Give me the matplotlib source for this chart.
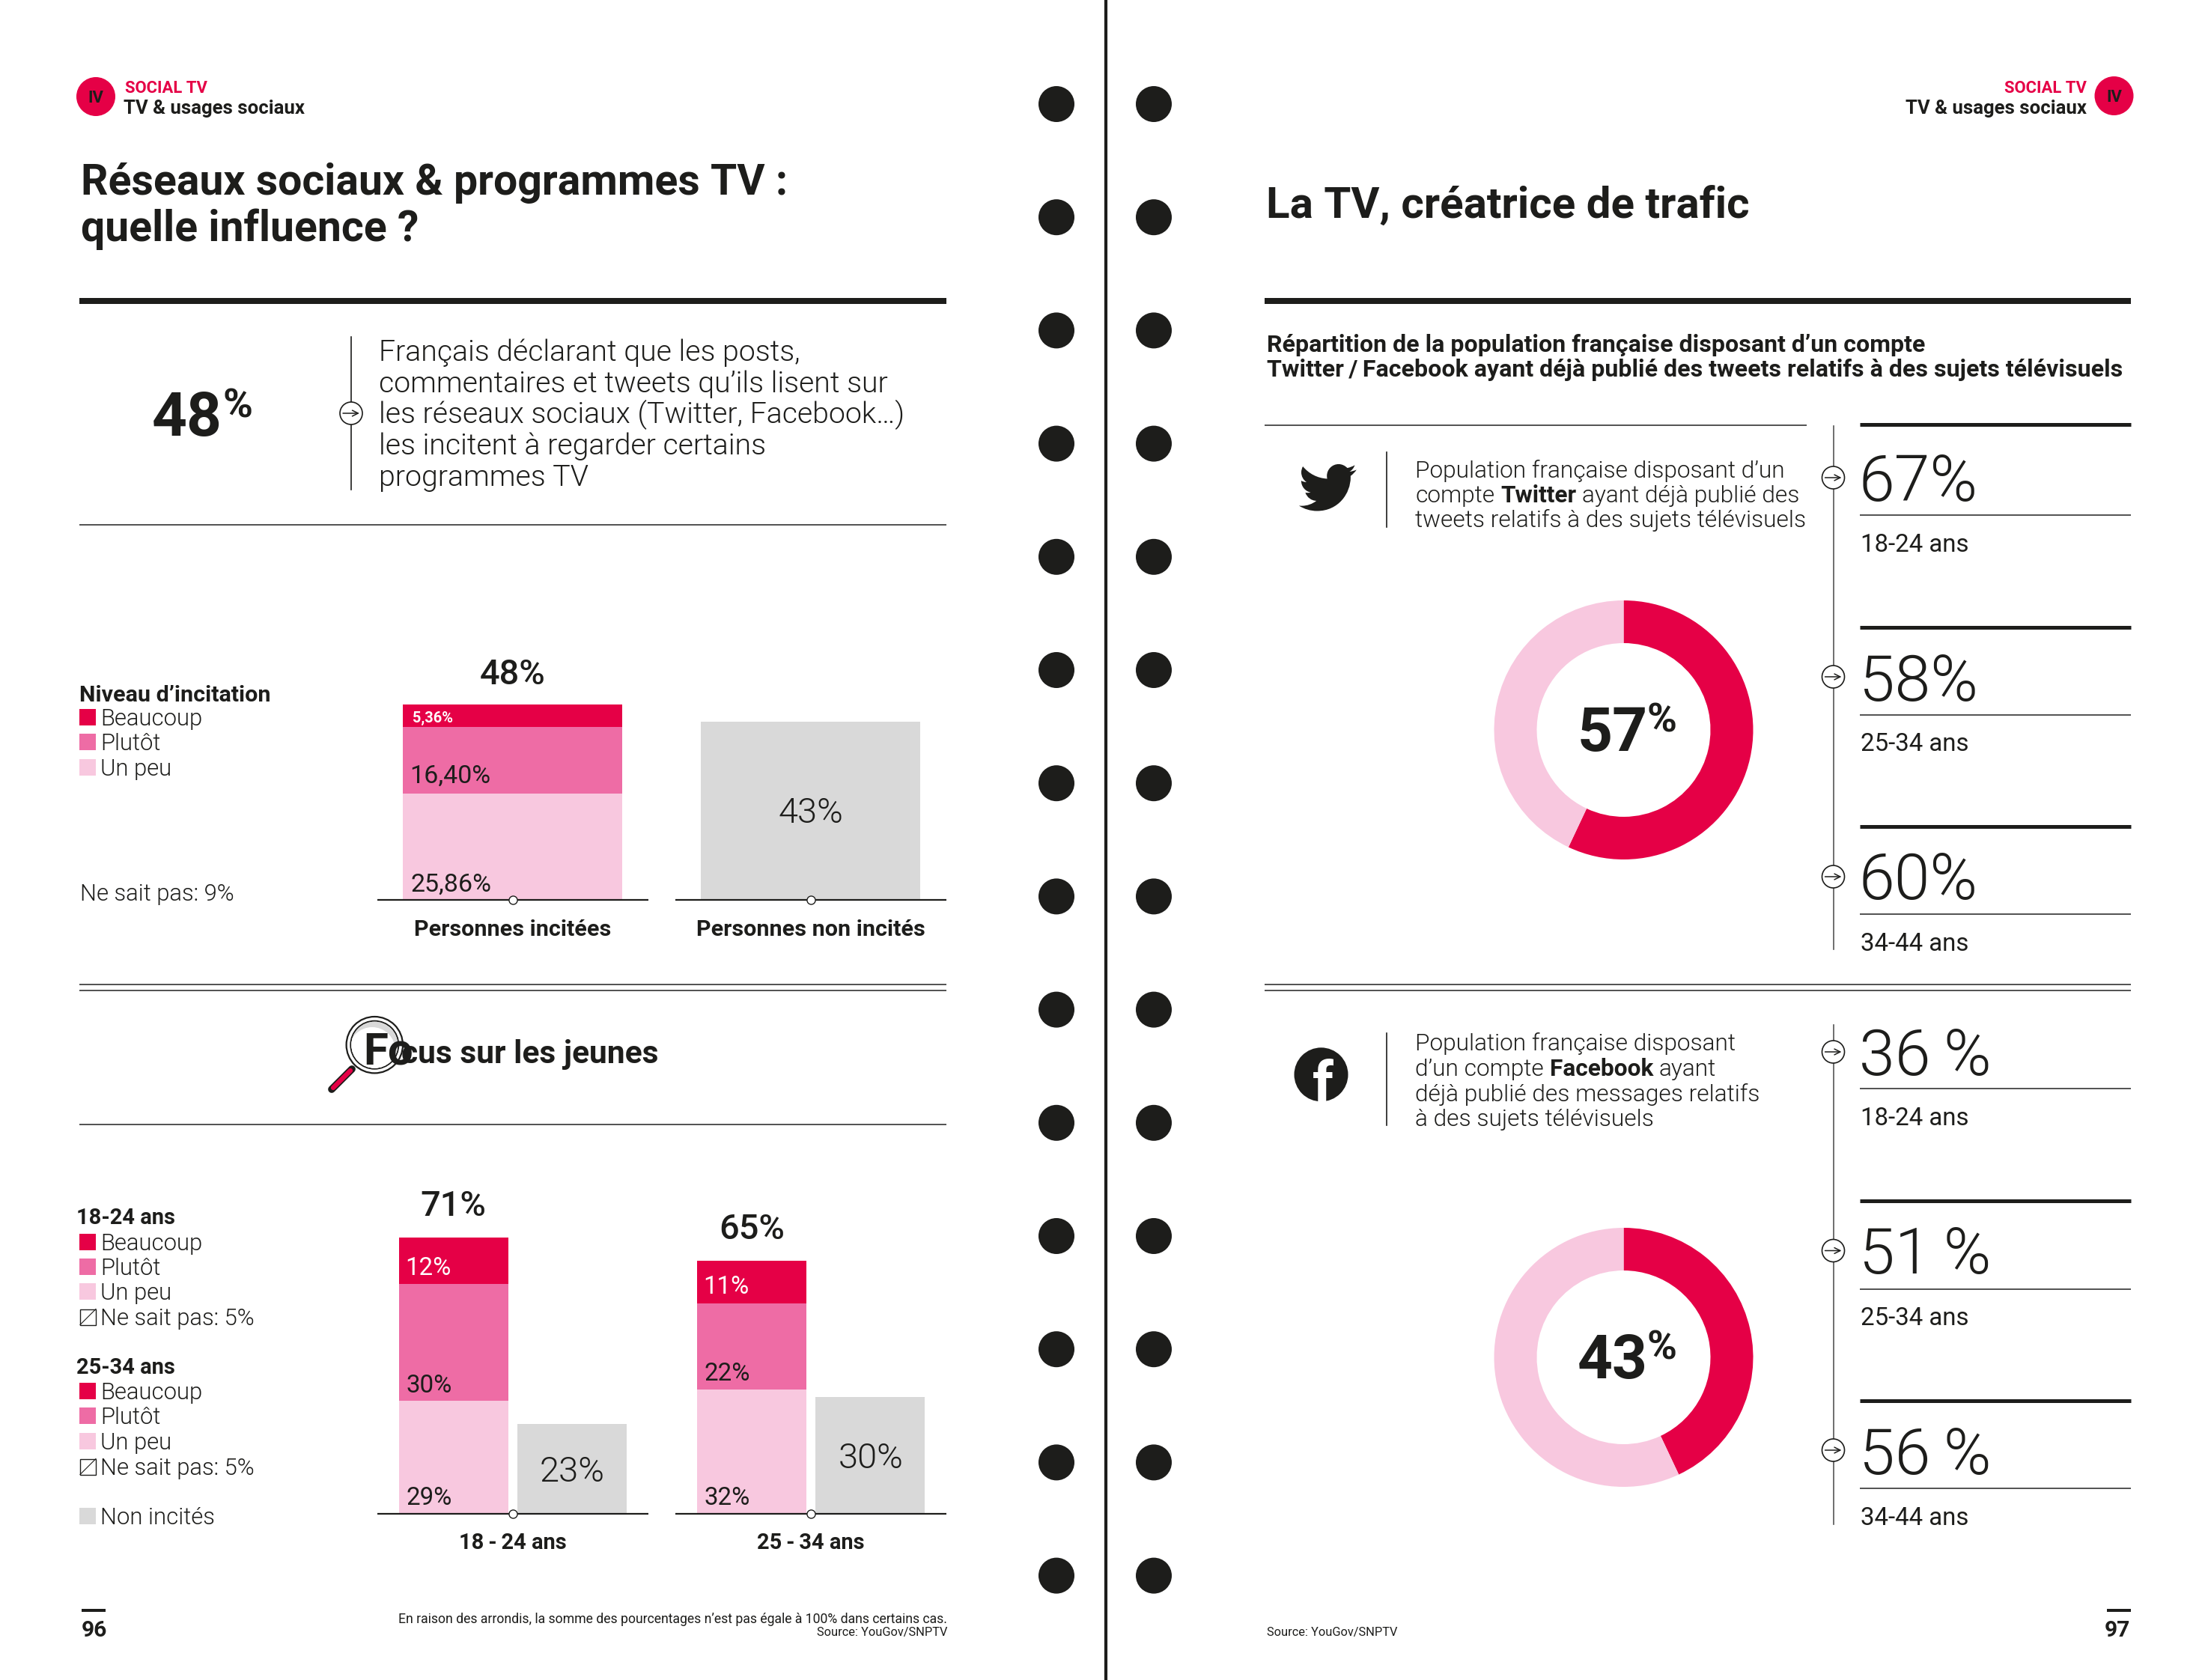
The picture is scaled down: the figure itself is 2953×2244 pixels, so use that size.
import matplotlib
matplotlib.use("Agg")
import matplotlib.pyplot as plt
from matplotlib.patches import Circle, Rectangle, PathPatch
from matplotlib.path import Path
from matplotlib.transforms import Affine2D

W, H = 2953, 2244

RED = "#E50046"
PINK = "#EE6CA5"
LIGHT = "#F8C8DF"
GREY = "#D9D9D9"
DARK = "#1D1D1B"

# data
incitees = [25.86, 16.40, 5.36]
non_incites = 43.46
incitees_labels = ["25,86%", "16,40%", "5,36%"]
jeunes_18_24 = [29, 30, 12]
jeunes_25_34 = [32, 22, 11]
jeunes_non_incites = [23, 30]
jeunes_groups = ["18\u2009-\u200924 ans", "25\u2009-\u200934 ans"]
twitter_share = [57, 43]
facebook_share = [43, 57]
twitter_ages = ["67%", "58%", "60%"]
facebook_ages = ["36\u2009%", "51\u2009%", "56\u2009%"]
age_labels = ["18-24 ans", "25-34 ans", "34-44 ans"]
legend_levels = ["Beaucoup", "Plutôt", "Un peu"]

ROB = ["Roboto"]

fig = plt.figure(figsize=(W / 100, H / 100), dpi=100, facecolor="white")
page = fig.add_axes([0, 0, 1, 1], zorder=5)
page.set_xlim(0, W)
page.set_ylim(H, 0)
page.axis("off")
page.patch.set_alpha(0)
renderer = fig.canvas.get_renderer()


def sub_axes(x0, y0, x1, y1):
    ax = fig.add_axes([x0 / W, 1 - y1 / H, (x1 - x0) / W, (y1 - y0) / H], zorder=2)
    ax.axis("off")
    return ax


def txt(x, y, s, size, weight="normal", color=DARK, ha="left", **kw):
    # y is the middle of the capitals, size is in pixels
    return page.text(x, y + 0.36 * size, s, fontsize=size * 0.72, family=ROB, weight=weight,
                     color=color, ha=ha, va="baseline", **kw)


def mixed(x, y, parts, size):
    for s, bold in parts:
        t = txt(x, y, s, size, weight="bold" if bold else 300)
        x = t.get_window_extent(renderer).x1 + size * 0.24


def rule(x0, x1, y, lw, color=DARK):
    page.plot([x0, x1], [y, y], color=color, lw=lw * 0.72, solid_capstyle="butt")


def arrow_dot(x, y):
    page.add_patch(Circle((x, y), 15, fc="white", ec=DARK, lw=1.2, zorder=3))
    page.annotate("", xy=(x + 11, y), xytext=(x - 11, y), zorder=4,
                  arrowprops=dict(arrowstyle="->", color=DARK, lw=1.1, shrinkA=0, shrinkB=0, mutation_scale=14))


def swatches(y_list, colors, labels, size=31):
    for y, c, lab in zip(y_list, colors, labels):
        page.add_patch(Rectangle((106, y - 11), 22, 22, fc=c, ec="none"))
        txt(134, y, lab, size, weight=300)


def ne_sait_pas(y):
    page.add_patch(Rectangle((107, y - 10.5), 21, 21, fc="white", ec=DARK, lw=1))
    page.plot([107, 128], [y + 10.5, y - 10.5], color=DARK, lw=0.8)
    txt(134, y, "Ne sait pas: 5%", 31, weight=300)


# page furniture
page.plot([1477, 1477], [0, H], color=DARK, lw=3)
for i in range(14):
    page.add_patch(Circle((1411, 139 + 151.2 * i), 24, fc=DARK, ec="none"))
    page.add_patch(Circle((1541, 139 + 151.2 * i), 24, fc=DARK, ec="none"))

# left header
page.add_patch(Circle((128, 129), 26, fc=RED, ec="none"))
txt(128, 129, "IV", 22, "bold", ha="center")
txt(167, 116, "SOCIAL TV", 22, "bold", RED)
txt(165, 143, "TV & usages sociaux", 25.8, "bold")
txt(108, 239, "Réseaux sociaux & programmes TV :", 57.2, "bold")
txt(108, 301, "quelle influence ?", 57.2, "bold")
rule(106, 1264, 402, 8)
rule(106, 1264, 701, 2, "#555555")

txt(203, 552, "48", 82, "bold")
txt(298, 538, "%", 54, "bold")
page.plot([469, 469], [450, 654], color=DARK, lw=1.2)
arrow_dot(469, 552)
body = ["Français déclarant que les posts,", "commentaires et tweets qu’ils lisent sur",
        "les réseaux sociaux (Twitter, Facebook…)", "les incitent à regarder certains", "programmes TV"]
for y, line in zip([468, 510, 551, 592.5, 635], body):
    txt(506, y, line, 39.3, weight=300)

# first legend
txt(106, 926, "Niveau d’incitation", 30.5, "bold")
swatches([958, 991, 1025], [RED, PINK, LIGHT], legend_levels)
txt(107, 1192, "Ne sait pas: 9%", 31, weight=300)

# first bar chart, 5.476 px per point
ax1 = sub_axes(504, 890, 1264, 1202)
ax1.set_xlim(-0.454, 1.455)
ax1.set_ylim(0, 312 / 5.476)
bottom = 0
for v, c in zip(incitees, [LIGHT, PINK, RED]):
    ax1.bar(0, v, bottom=bottom, width=0.736, color=c)
    bottom += v
ax1.bar(1, non_incites, width=0.736, color=GREY)
ax1.hlines(0, -0.454, 0.456, color=DARK, lw=1.6, clip_on=False)
ax1.hlines(0, 0.546, 1.455, color=DARK, lw=1.6, clip_on=False)
ax1.plot([0, 1], [0, 0], "o", mfc="white", mec=DARK, ms=8, mew=1, clip_on=False, zorder=5)

txt(685, 897, "48%", 47, weight=500, ha="center")
txt(551, 958, incitees_labels[2], 20, "bold", "white")
txt(547, 1033, incitees_labels[1], 34)
txt(549, 1178, incitees_labels[0], 34)
txt(1082.6, 1082, "43%", 47, weight=300, ha="center")
txt(685, 1239, "Personnes incitées", 30.5, "bold", ha="center")
txt(1082.6, 1239, "Personnes non incités", 30.5, "bold", ha="center")

rule(106, 1264, 1314.5, 2, "#555555")
rule(106, 1264, 1323, 2, "#555555")
rule(106, 1264, 1501.5, 2, "#555555")

# magnifying glass
lens_xy = (500.3, 1395.7)
page.add_patch(Circle(lens_xy, 37.7, fc="white", ec=DARK, lw=1.6, zorder=2))
page.add_patch(Circle(lens_xy, 32, fc="white", ec=DARK, lw=1.4, zorder=3))
clip = Circle(lens_xy, 31, transform=page.transData)
grey_disc = Circle(lens_xy, 31, fc="#D9D9D9", ec="none", zorder=3)
white_disc = Circle((497, 1403), 31, fc="white", ec="none", zorder=3)
page.add_patch(grey_disc)
page.add_patch(white_disc)
white_disc.set_clip_path(clip)
page.plot([470, 443], [1428, 1455], color=DARK, lw=7, solid_capstyle="round", zorder=2)
page.plot([468, 445], [1430, 1453], color=RED, lw=4.5, solid_capstyle="round", zorder=3)
fo = txt(485, 1400, "Fo", 60, "bold", zorder=4)
fo.set_clip_path(clip)
txt(536, 1405, "cus sur les jeunes", 42.5, "bold", zorder=4)

# second legend
txt(102, 1625, "18-24 ans", 29, "bold")
swatches([1658.5, 1691.5, 1725], [RED, PINK, LIGHT], legend_levels)
ne_sait_pas(1759)
txt(102, 1825, "25-34 ans", 29, "bold")
swatches([1858, 1891, 1925], [RED, PINK, LIGHT], legend_levels)
ne_sait_pas(1959)
swatches([2025], [GREY], ["Non incités"])

# second bar chart, 5.2 px per point
ax2 = sub_axes(504, 1560, 1264, 2022)
ax2.set_xlim(-0.454, 1.455)
ax2.set_ylim(0, 462 / 5.2)
for g, stack in enumerate([jeunes_18_24, jeunes_25_34]):
    bottom = 0
    for v, c in zip(stack, [LIGHT, PINK, RED]):
        ax2.bar(g - 0.1985, v, bottom=bottom, width=0.367, color=c)
        bottom += v
    ax2.bar(g + 0.1985, jeunes_non_incites[g], width=0.367, color=GREY)
ax2.hlines(0, -0.454, 0.456, color=DARK, lw=1.6, clip_on=False)
ax2.hlines(0, 0.546, 1.455, color=DARK, lw=1.6, clip_on=False)
ax2.plot([0, 1], [0, 0], "o", mfc="white", mec=DARK, ms=8, mew=1, clip_on=False, zorder=5)

txt(605, 1607, "71%", 47, weight=500, ha="center")
txt(1004, 1638, "65%", 47, weight=500, ha="center")
txt(541, 1691, f"{jeunes_18_24[2]}%", 33, color="white")
txt(543, 1848, f"{jeunes_18_24[1]}%", 33)
txt(543, 1998, f"{jeunes_18_24[0]}%", 33)
txt(939, 1716, f"{jeunes_25_34[2]}%", 33, color="white")
txt(941, 1832, f"{jeunes_25_34[1]}%", 33)
txt(941, 1998, f"{jeunes_25_34[0]}%", 33)
txt(764.5, 1962, f"{jeunes_non_incites[0]}%", 47, weight=300, ha="center")
txt(1162.8, 1944, f"{jeunes_non_incites[1]}%", 47, weight=300, ha="center")
txt(685, 2059, jeunes_groups[0], 29, "bold", ha="center")
txt(1082.6, 2059, jeunes_groups[1], 29, "bold", ha="center")

# left footer
rule(108.5, 140.5, 2151, 4)
txt(109, 2175, "96", 30, "bold")
txt(1265, 2161.5, "En raison des arrondis, la somme des pourcentages n’est pas égale à 100% dans certains cas.", 17.6,
    ha="right")
txt(1265, 2179.5, "Source: YouGov/SNPTV", 16.4, ha="right")

# right header
page.add_patch(Circle((2823.5, 128), 26, fc=RED, ec="none"))
txt(2823.5, 128, "IV", 22, "bold", ha="center")
txt(2787, 116, "SOCIAL TV", 22, "bold", RED, ha="right")
txt(2787, 143, "TV & usages sociaux", 25.8, "bold", ha="right")
txt(1691, 270, "La TV, créatrice de trafic", 58.3, "bold")
rule(1689, 2846, 402, 8)
txt(1692, 458, "Répartition de la population française disposant d’un compte", 32.2, "bold")
txt(1692, 491, "Twitter\u2009/\u2009Facebook ayant déjà publié des tweets relatifs à des sujets télévisuels", 32.1, "bold")
rule(1688.5, 2413, 568, 2, "#555555")
rule(1688.5, 2846, 1314.5, 2, "#555555")
rule(1688.5, 2846, 1323, 2, "#555555")

# bird and f logos
bird_verts = [(23.953, 4.57), (23.06, 4.96), (22.1, 5.23), (21.128, 5.345), (22.15, 4.74), (22.93, 3.75), (23.291, 2.622),
              (22.34, 3.177), (21.286, 3.581), (20.164, 3.806), (19.2, 2.78), (17.85, 2.2), (16.55, 2.2),
              (13.85, 2.2), (11.65, 4.4), (11.65, 7.1), (11.65, 7.5), (11.7, 7.9), (11.78, 8.288),
              (7.69, 8.095), (4.067, 6.13), (1.64, 3.162), (1.2, 3.9), (0.974, 4.75), (0.974, 5.637),
              (0.974, 7.347), (1.844, 8.85), (3.162, 9.733), (2.36, 9.71), (1.6, 9.49), (0.934, 9.117),
              (0.934, 11.55), (2.62, 13.55), (4.88, 14.004), (4.16, 14.2), (3.4, 14.23), (2.668, 14.089),
              (3.31, 16.04), (5.13, 17.47), (7.272, 17.506), (5.59, 18.82), (3.47, 19.611), (1.17, 19.611),
              (0.78, 19.611), (0.39, 19.588), (0, 19.544), (2.18, 20.94), (4.77, 21.753), (7.557, 21.753),
              (16.61, 21.753), (21.555, 14.257), (21.555, 7.768), (21.555, 7.558), (21.555, 7.348), (21.54, 7.138),
              (22.5, 6.44), (23.33, 5.57), (24, 4.59)]
bird_codes = [Path.MOVETO] + [Path.CURVE4] * (len(bird_verts) - 1)
bird = Path(bird_verts, bird_codes)
place = Affine2D().translate(-12, -12).scale(3.2).translate(1773.3, 651.3)
page.add_patch(PathPatch(bird.transformed(place), fc=DARK, ec="none"))

fb_xy = (1764.5, 1435.3)
page.add_patch(Circle(fb_xy, 36, fc=DARK, ec="none"))
f_glyph = txt(1767, 1445, "f", 78, "bold", color="white", ha="center")
f_glyph.set_clip_path(Circle(fb_xy, 36, transform=page.transData))

page.plot([1852, 1852], [604, 704], color=DARK, lw=1.2)
page.plot([1852, 1852], [1380, 1503], color=DARK, lw=1.2)

mixed(1890.5, 627, [("Population française disposant d’un", False)], 31.6)
mixed(1890.5, 660, [("compte", False), ("Twitter", True), ("ayant déjà publié des", False)], 31.6)
mixed(1890.5, 693, [("tweets relatifs à des sujets télévisuels", False)], 31.6)
mixed(1890.5, 1392, [("Population française disposant", False)], 31.6)
mixed(1890.5, 1426, [("d’un compte", False), ("Facebook", True), ("ayant", False)], 31.6)
mixed(1890.5, 1459.5, [("déjà publié des messages relatifs", False)], 31.6)
mixed(1890.5, 1492.5, [("à des sujets télévisuels", False)], 31.6)


def donut(cy, shares, label):
    ax = sub_axes(2168.5 - 173, cy - 173, 2168.5 + 173, cy + 173)
    ax.pie(shares, colors=[RED, LIGHT], startangle=90, counterclock=False, radius=1,
           wedgeprops=dict(width=57 / 173))
    ax.set_xlim(-1, 1)
    ax.set_ylim(-1, 1)
    txt(2107, cy - 2, label, 82, "bold")
    txt(2199, cy - 17, "%", 54, "bold")


donut(975, twitter_share, "57")
donut(1813, facebook_share, "43")


def stat_column(line_y, thick_y, thin_y, dots, num_y, age_y, values):
    page.plot([2448.5, 2448.5], line_y, color="#555555", lw=1.2)
    for y in thick_y:
        rule(2484, 2846, y, 5)
    for y in thin_y:
        rule(2484, 2846, y, 2, "#555555")
    for y in dots:
        arrow_dot(2448.5, y)
    for y, v in zip(num_y, values):
        txt(2483, y, v, 86, weight=300)
    for y, a in zip(age_y, age_labels):
        txt(2485, y, a, 33)


stat_column([569, 1268], [566.5, 838, 1104], [688, 954.5, 1221], [638, 904, 1171],
            [638, 905, 1170], [725, 991, 1258], twitter_ages)
stat_column([1369, 2036], [1604, 1871], [1454, 1721.5, 1987.5], [1405, 1670.5, 1937],
            [1405, 1670.5, 1938], [1491, 1758.5, 2025], facebook_ages)

# right footer
txt(1692, 2179.5, "Source: YouGov/SNPTV", 16.4)
rule(2814, 2846, 2151, 4)
txt(2845, 2175, "97", 30, "bold", ha="right")

fig.savefig("out.png", dpi=100)
